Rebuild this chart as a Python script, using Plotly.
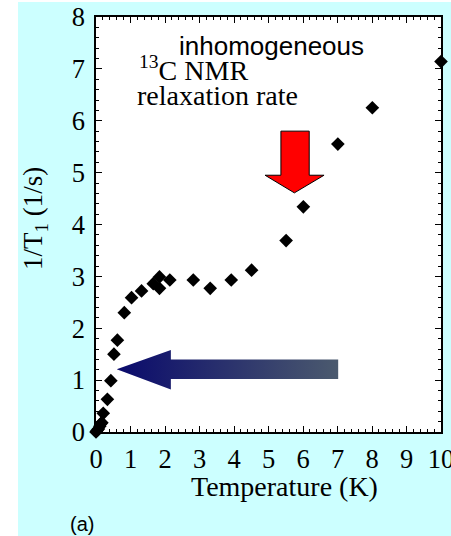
import plotly.graph_objects as go

# ---- data ----
temperature_K = [0.0, 0.03, 0.07, 0.11, 0.14, 0.17, 0.21, 0.33, 0.43, 0.52, 0.62, 0.82,
                 1.03, 1.32, 1.66, 1.84, 1.84, 2.14, 2.82, 3.31, 3.92, 4.51, 5.51, 6.01,
                 7.01, 8.01, 10.0]
rate_1_per_s = [0.0, 0.03, 0.06, 0.11, 0.16, 0.18, 0.36, 0.63, 0.99, 1.50, 1.77, 2.30,
                2.59, 2.72, 2.86, 2.99, 2.77, 2.93, 2.93, 2.77, 2.93, 3.12, 3.69, 4.34,
                5.55, 6.25, 7.14]
x_ticks = list(range(0, 11))
y_ticks = list(range(0, 9))

# decorative arrows (data coordinates)
red_arrow_x = [5.36, 6.18, 6.18, 6.61, 5.75, 4.90, 5.36, 5.36]
red_arrow_y = [5.80, 5.80, 4.95, 4.95, 4.61, 4.95, 4.95, 5.80]
blue_arrow_x = [0.60, 2.17, 2.17, 7.02, 7.02, 2.17, 2.17, 0.60]
blue_arrow_y = [1.21, 1.58, 1.40, 1.40, 1.02, 1.02, 0.82, 1.21]

SERIF = "Liberation Serif, Times New Roman, serif"
SANS = "Liberation Sans, Arial, sans-serif"

W, H = 451, 536
L, R, T, B = 96, 10, 17, 104
pw, ph = W - L - R, H - T - B


def px(x):
    return (x - L) / pw


def py(y):
    return (H - B - y) / ph


fig = go.Figure()

fig.add_trace(go.Scatter(
    x=blue_arrow_x, y=blue_arrow_y, mode="lines", fill="toself",
    line=dict(width=0, color="rgba(0,0,0,0)"),
    fillgradient=dict(type="horizontal",
                      colorscale=[[0, "#0a0a6c"], [1, "#4b5a6e"]]),
    hoverinfo="skip", showlegend=False))

fig.add_trace(go.Scatter(
    x=red_arrow_x, y=red_arrow_y, mode="lines", fill="toself",
    fillcolor="#ff0000", line=dict(width=1, color="#000000"),
    hoverinfo="skip", showlegend=False))

fig.add_trace(go.Scatter(
    x=temperature_K, y=rate_1_per_s, mode="markers",
    marker=dict(symbol="diamond", size=10.5, color="#000000"),
    cliponaxis=False, showlegend=False))

axis_common = dict(
    showgrid=False, zeroline=False, showline=True, linecolor="#000000",
    linewidth=1.5, mirror="ticks", ticks="inside", ticklen=6, tickwidth=1,
    tickcolor="#000000", ticklabeloverflow="allow", automargin=False,
    tickfont=dict(family=SERIF, size=26.5, color="#000000"),
    minor=dict(ticks="inside", ticklen=3, tickwidth=1, tickcolor="#000000", dtick=0.2),
)

fig.update_xaxes(range=[0, 10], tickvals=x_ticks, ticklabelstandoff=2, **axis_common)
fig.update_yaxes(range=[0, 8], tickvals=y_ticks, ticklabelstandoff=4, **axis_common)

annotations = [
    dict(text="inhomogeneous", x=px(177), y=py(46), xanchor="left", yanchor="middle",
         font=dict(family=SANS, size=26, color="#000000")),
    dict(text="<sup>13</sup>C NMR", x=px(137), y=py(68), xanchor="left", yanchor="middle",
         font=dict(family=SERIF, size=28, color="#000000")),
    dict(text="relaxation rate", x=px(135), y=py(95), xanchor="left", yanchor="middle",
         font=dict(family=SERIF, size=28, color="#000000")),
    dict(text="1/T<sub>1</sub> (1/s)", x=px(35), y=py(219), xanchor="center",
         yanchor="middle", textangle=-90,
         font=dict(family=SERIF, size=27, color="#000000")),
    dict(text="Temperature (K)", x=px(284), y=py(486), xanchor="center", yanchor="middle",
         font=dict(family=SERIF, size=28, color="#000000")),
    dict(text="(a)", x=px(82), y=py(524), xanchor="center", yanchor="middle",
         font=dict(family=SANS, size=20, color="#000000")),
]
for a in annotations:
    a.update(xref="paper", yref="paper", showarrow=False)

shapes = [
    dict(type="rect", xref="paper", yref="paper", x0=px(-5), x1=px(18), y0=py(H + 5),
         y1=py(-5), fillcolor="#ffffff", line=dict(width=0), layer="below"),
    dict(type="rect", xref="paper", yref="paper", x0=px(-5), x1=px(W + 5), y0=py(2),
         y1=py(-5), fillcolor="#ffffff", line=dict(width=0), layer="below"),
]

fig.update_layout(
    width=W, height=H, margin=dict(l=L, r=R, t=T, b=B, pad=0, autoexpand=False),
    paper_bgcolor="#ccffff", plot_bgcolor="#ffffff",
    annotations=annotations, shapes=shapes, showlegend=False,
)

fig.write_html("out.html")
